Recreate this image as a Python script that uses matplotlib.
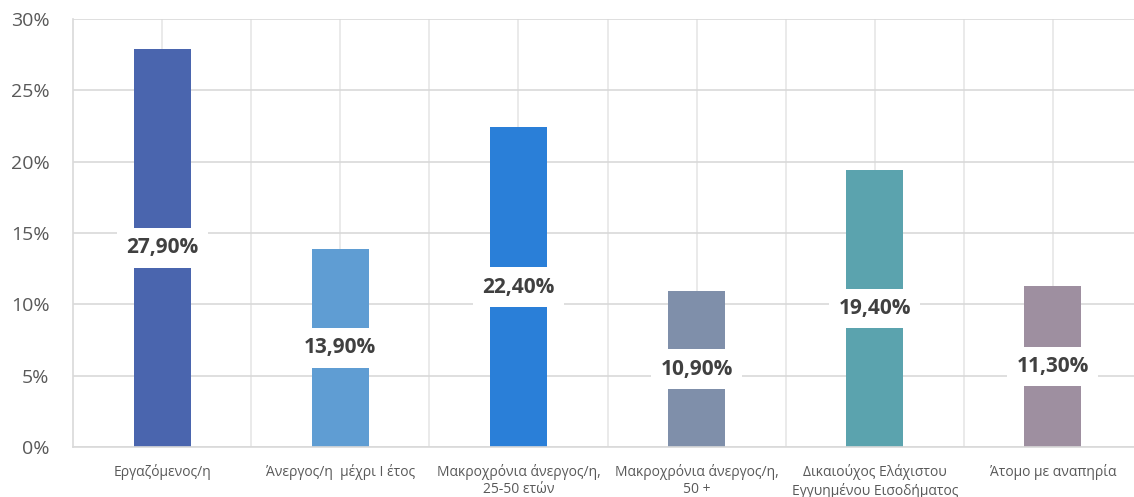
import matplotlib
matplotlib.use("Agg")
import matplotlib.pyplot as plt
from matplotlib.ticker import FuncFormatter, MultipleLocator

categories = [
    "Εργαζόμενος/η",
    "Άνεργος/η  μέχρι Ι έτος",
    "Μακροχρόνια άνεργος/η,\n25-50 ετών",
    "Μακροχρόνια άνεργος/η,\n50 +",
    "Δικαιούχος Ελάχιστου\nΕγγυημένου Εισοδήματος",
    "Άτομο με αναπηρία",
]
values = [27.9, 13.9, 22.4, 10.9, 19.4, 11.3]
value_labels = ["27,90%", "13,90%", "22,40%", "10,90%", "19,40%", "11,30%"]
colors = ["#4A65AE", "#5F9DD3", "#2A7FD8", "#7F8FAA", "#5BA3AE", "#9E8FA0"]

plt.rcParams['font.family'] = ['Open Sans', 'DejaVu Sans']

fig = plt.figure(figsize=(11.34, 4.97), dpi=100)
ax = fig.add_axes([73/1134, 1 - 447/497, (1142 - 73)/1134, (447 - 19)/497])

x = list(range(len(categories)))
ax.bar(x, values, width=0.32, color=colors, zorder=2)
ax.set_xlim(-0.5, len(categories) - 0.5)
ax.set_ylim(0, 30)
ax.yaxis.set_major_locator(MultipleLocator(5))
ax.yaxis.set_major_formatter(FuncFormatter(lambda v, p: f"{v:.0f}%"))

ax.set_xticks(x)
ax.set_xticks([i + 0.5 for i in x], minor=True)
ax.set_xticklabels(categories, fontsize=10, color="#595959", linespacing=1.25)
ax.tick_params(axis='x', which='both', length=0, pad=12)
ax.tick_params(axis='y', length=0, labelsize=14, labelcolor="#595959", pad=17)

ax.grid(True, axis='y', color="#D9D9D9", lw=1.2, zorder=0)
ax.grid(True, axis='x', which='both', color="#E6E6E6", lw=1.2, zorder=0)
for s in ["top", "right"]:
    ax.spines[s].set_visible(False)
ax.spines["left"].set_color("#D9D9D9")
ax.spines["bottom"].set_color("#D9D9D9")
ax.spines["left"].set_linewidth(1.2)
ax.spines["bottom"].set_linewidth(1.2)

for xi, v, t in zip(x, values, value_labels):
    ax.text(xi, v / 2, t, ha='center', va='center', fontsize=15, fontweight='bold',
            color="#404040", zorder=3,
            bbox=dict(boxstyle='square,pad=0.45', fc='white', ec='none'))

fig.savefig("out.png", dpi=100)
